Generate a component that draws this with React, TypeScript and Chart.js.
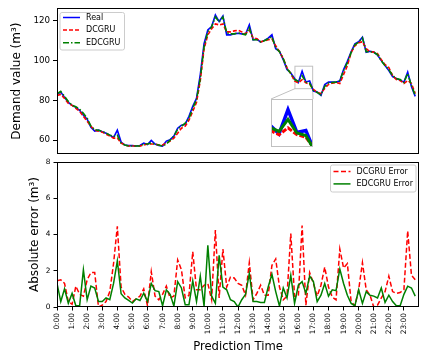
import React, { useEffect, useRef } from "react";
import { Chart, registerables } from "chart.js";

Chart.register(...registerables);

const FONT = "DejaVu Sans";

const HOURS = [
  "0:00", "1:00", "2:00", "3:00", "4:00", "5:00", "6:00", "7:00", "8:00", "9:00", "10:00", "11:00",
  "12:00", "13:00", "14:00", "15:00", "16:00", "17:00", "18:00", "19:00", "20:00", "21:00", "22:00", "23:00",
];

const REAL = [
  83, 84.2, 81.5, 79, 77.5, 76.5, 75, 72.5, 70.5, 66.5, 64.5, 65, 64.2, 63.5, 62.5, 61.3,
  65, 59, 57.5, 57.2, 57.2, 57, 57.3, 58.5, 57.8, 59.8, 58, 57.3, 57, 59.5, 60.2, 62,
  66, 67.5, 68, 72, 77, 81, 93, 108.5, 115.5, 117.2, 123, 119.7, 122.5, 113, 113, 113.5,
  113.8, 113.5, 113.3, 118, 110.5, 110.8, 109.3, 110.2, 111.3, 113, 106, 104.7, 100.5, 95.5, 93.8, 91,
  89, 94.7, 89.3, 89.8, 84.7, 84.2, 82.5, 88, 89.2, 89.2, 89.2, 89.7, 95.5, 99.7, 104.5, 108.5,
  109.5, 111.8, 104.2, 104.7, 104.3, 102.8, 100, 97.5, 95, 92, 91, 90.2, 89.2, 94.2, 87, 82,
];

const DCGRU = [
  82.5, 83, 81, 78.5, 77.5, 76, 74.5, 72, 69.5, 67, 65, 64.5, 64, 63, 62, 61,
  61, 58.5, 57.5, 57, 57, 57, 57, 57.5, 58, 58, 58, 57.5, 57.5, 58.5, 59.5, 61,
  63.5, 66, 67, 70, 74.5, 79, 90, 106, 113, 116, 118.5, 118, 118.5, 114.5, 114.5, 115,
  115.3, 114.5, 113.5, 115.5, 111.5, 111, 109.5, 110, 110.5, 111, 107.5, 104.5, 101, 96.5, 93.5, 89.8,
  88.8, 90.4, 88.8, 88.2, 85.5, 84, 83.5, 86, 88, 88.7, 89, 88.5, 93, 97.5, 104, 107.5,
  109, 109.5, 106, 104.5, 104.3, 103.5, 100.5, 98, 96.5, 92.5, 90.5, 90, 88.5, 90, 88.5, 83.5,
];

const EDCGRU = [
  83.3, 84.5, 82, 79.5, 77.5, 76.8, 75.5, 73.5, 71, 67, 65.2, 65, 64.5, 63.5, 62.5, 61.8,
  62.5, 58.5, 57.5, 57, 57, 57, 57, 58, 58, 58.5, 58, 57.5, 57, 58, 60, 62,
  65.5, 67, 68.5, 71, 76, 80.5, 91, 107, 114.5, 117, 122, 119.5, 122, 114, 113.5, 113.5,
  114, 113.5, 113, 116.5, 110.5, 110.5, 109.5, 110, 111, 112, 106.5, 104.5, 101, 96, 93.5, 90.5,
  89.6, 92.4, 89.2, 88.6, 85, 84, 82.8, 87, 88.8, 89, 89.2, 90, 95, 99, 104, 108,
  109.3, 111.5, 104.5, 104.5, 104.2, 103, 100, 97.5, 95.5, 92.5, 91, 90.5, 89, 93.5, 87.5, 82.5,
];

const DCGRU_ERR = [
  1.45, 1.5, 1.3, 0.3, 0.15, 1.15, 0.7, 0.6, 1.5, 1.9, 1.9, 0, 0.1, 0.3, 0.85, 2.4,
  4.45, 1.1, 0.7, 0.55, 0.3, 0.45, 0.6, 1.0, 0.07, 1.95, 0.6, 0.4, 0.7, 1.15, 0.5, 0.6,
  2.6, 2.05, 0.5, 0.65, 3.05, 0.95, 0.95, 1.2, 1.3, 0.4, 4.25, 0.5, 3.2, 1.1, 1.65, 1.6,
  1.3, 1.2, 0.65, 2.45, 0.4, 0.75, 1.2, 0.65, 0.65, 2.3, 2.65, 1.1, 0.4, 0.6, 4.05, 0.6,
  0.6, 4.5, 0.1, 1.9, 1.3, 0.6, 1.2, 2.2, 1.1, 0.55, 0.4, 3.2, 2.15, 2.4, 0.3, 0.07,
  0.95, 2.45, 0.95, 0.65, 0, 0.1, 0.5, 0.85, 1.7, 0.85, 0.75, 0.8, 0.95, 4.2, 1.75, 1.5,
];

const EDCGRU_ERR = [
  1.3, 0.3, 1.0, 0.2, 0.75, 0.07, 0.07, 2.05, 0.4, 1.15, 1.05, 0.3, 0.3, 0.5, 0.4, 1.3,
  2.55, 0.73, 0.5, 0.36, 0.22, 0.45, 0.36, 0.76, 0.3, 1.3, 0.9, 0.85, 0.07, 0.95, 0.7, 0.05,
  1.4, 1.05, 0.13, 0.13, 1.45, 0.3, 1.7, 0.05, 3.4, 0.6, 0.2, 2.85, 1.1, 0.95, 0.4, 0.3,
  0, 0.4, 0.7, 1.85, 0.3, 0.3, 0.25, 0.25, 1.1, 1.8, 0.85, 0.05, 1.05, 0.5, 1.75, 0.2,
  1.2, 1.4, 0.75, 1.7, 1.4, 0.3, 0.65, 1.3, 0.6, 0.95, 0.9, 2.1, 1.3, 0.65, 0.2, 0.07,
  0.95, 0.2, 0.85, 0.65, 0.6, 0.5, 1.05, 0.25, 0.65, 0.3, 0.07, 0.07, 0.7, 1.15, 1.05, 0.6,
];

const DEMAND_TICKS = [60, 80, 100, 120];
const ERROR_TICKS = [0, 2, 4, 6, 8];
const DEMAND_RANGE = [53, 126.4];
const ERROR_RANGE = [0, 8];
const X_RANGE = [0, 96];
const INSET_X = [63.1, 67.8];
const INSET_Y = [85.9, 97.2];

// layout (pixels)
const W = 432;
const H = 357;
const PLOT_RIGHT_PAD = 13;
const TOP_T = 8;
const TOP_B = 154;
const BOT_T = 162;
const BOT_B = 307;
const YAXIS_W = 57;
const INSET_BOX = { left: 271, top: 99, width: 42, height: 48 };

const pts = (arr: number[]) => arr.map((y, i) => ({ x: i, y }));

const framePlugin = (color: string) => ({
  id: "frame",
  afterDraw(chart: any) {
    const { ctx, chartArea: a } = chart;
    ctx.save();
    ctx.strokeStyle = color;
    ctx.lineWidth = 1;
    ctx.setLineDash([]);
    ctx.strokeRect(
      Math.round(a.left) + 0.5,
      Math.round(a.top) + 0.5,
      Math.round(a.right - a.left) - 1,
      Math.round(a.bottom - a.top) - 1
    );
    ctx.restore();
  },
});

const legendPlugin = (box: { x: number; y: number; w: number; h: number }, firstRow: number, rowH: number) => ({
  id: "boxLegend",
  afterDraw(chart: any) {
    const ctx = chart.ctx as CanvasRenderingContext2D;
    ctx.save();
    const r = 2;
    const { x, y, w, h } = box;
    ctx.beginPath();
    ctx.moveTo(x + r, y);
    ctx.lineTo(x + w - r, y);
    ctx.quadraticCurveTo(x + w, y, x + w, y + r);
    ctx.lineTo(x + w, y + h - r);
    ctx.quadraticCurveTo(x + w, y + h, x + w - r, y + h);
    ctx.lineTo(x + r, y + h);
    ctx.quadraticCurveTo(x, y + h, x, y + h - r);
    ctx.lineTo(x, y + r);
    ctx.quadraticCurveTo(x, y, x + r, y);
    ctx.closePath();
    ctx.fillStyle = "rgba(255,255,255,0.8)";
    ctx.fill();
    ctx.strokeStyle = "#cccccc";
    ctx.lineWidth = 1;
    ctx.stroke();
    chart.data.datasets.forEach((ds: any, k: number) => {
      const yy = y + firstRow + k * rowH;
      ctx.strokeStyle = ds.borderColor;
      ctx.lineWidth = 1.5;
      ctx.setLineDash(ds.borderDash || []);
      ctx.beginPath();
      ctx.moveTo(x + 3, yy);
      ctx.lineTo(x + 20, yy);
      ctx.stroke();
      ctx.setLineDash([]);
      ctx.fillStyle = "#000";
      ctx.font = `8px "${FONT}"`;
      ctx.textBaseline = "middle";
      ctx.textAlign = "left";
      ctx.fillText(ds.label, x + 26, yy);
    });
    ctx.restore();
  },
});

const insetMarkPlugin = {
  id: "insetMark",
  beforeDatasetsDraw(chart: any) {
    const { ctx, scales } = chart;
    const x0 = scales.x.getPixelForValue(INSET_X[0]);
    const x1 = scales.x.getPixelForValue(INSET_X[1]);
    const y0 = scales.y.getPixelForValue(INSET_Y[1]);
    const y1 = scales.y.getPixelForValue(INSET_Y[0]);
    ctx.save();
    ctx.strokeStyle = "#c0c0c0";
    ctx.lineWidth = 1;
    ctx.setLineDash([]);
    ctx.strokeRect(x0, y0, x1 - x0, y1 - y0);
    ctx.beginPath();
    ctx.moveTo(x0, y1);
    ctx.lineTo(INSET_BOX.left, INSET_BOX.top);
    ctx.moveTo(x1, y1);
    ctx.lineTo(INSET_BOX.left + INSET_BOX.width, INSET_BOX.top);
    ctx.stroke();
    ctx.restore();
  },
};

const lineDs = (label: string, data: number[], color: string, dash: number[], order: number, width = 1.6) => ({
  label,
  data: pts(data),
  borderColor: color,
  backgroundColor: color,
  borderDash: dash,
  borderWidth: width,
  pointRadius: 0,
  tension: 0,
  fill: false,
  order,
});

export default function App() {
  const topRef = useRef<HTMLCanvasElement>(null);
  const botRef = useRef<HTMLCanvasElement>(null);
  const insRef = useRef<HTMLCanvasElement>(null);

  useEffect(() => {
    Chart.defaults.font.family = FONT;
    Chart.defaults.color = "#000";

    const top = new Chart(topRef.current as HTMLCanvasElement, {
      type: "line",
      data: {
        datasets: [
          lineDs("Real", REAL, "#0000ff", [], 3),
          lineDs("DCGRU", DCGRU, "#ff0000", [4, 2], 2),
          lineDs("EDCGRU", EDCGRU, "#008000", [6, 2, 1.5, 2], 1),
        ] as any,
      },
      options: {
        animation: false,
        responsive: false,
        events: [],
        layout: { padding: { left: 0, right: PLOT_RIGHT_PAD, top: TOP_T, bottom: H - TOP_B } },
        plugins: { legend: { display: false }, tooltip: { enabled: false } },
        scales: {
          x: { type: "linear", min: X_RANGE[0], max: X_RANGE[1], display: false },
          y: {
            type: "linear",
            min: DEMAND_RANGE[0],
            max: DEMAND_RANGE[1],
            afterFit: (s: any) => {
              s.width = YAXIS_W;
            },
            afterBuildTicks: (s: any) => {
              s.ticks = DEMAND_TICKS.map((v) => ({ value: v }));
            },
            grid: { drawOnChartArea: false, tickLength: 4, color: "#000" },
            border: { display: false },
            ticks: { font: { family: FONT, size: 8.7 }, color: "#000", padding: 3 },
            title: {
              display: true,
              text: "Demand value (m³)",
              font: { family: FONT, size: 12 },
              color: "#000",
              padding: { top: 9.5, bottom: 0 },
            },
          },
        },
      },
      plugins: [insetMarkPlugin, framePlugin("#000"), legendPlugin({ x: 60, y: 12.5, w: 64.5, h: 37.5 }, 5, 12.6)],
    } as any);

    const bot = new Chart(botRef.current as HTMLCanvasElement, {
      type: "line",
      data: {
        datasets: [
          lineDs("DCGRU Error", DCGRU_ERR, "#ff0000", [5, 2.5], 2, 1.5),
          lineDs("EDCGRU Error", EDCGRU_ERR, "#008000", [], 1, 1.5),
        ] as any,
      },
      options: {
        animation: false,
        responsive: false,
        events: [],
        layout: { padding: { left: 0, right: PLOT_RIGHT_PAD, top: BOT_T, bottom: 0 } },
        plugins: { legend: { display: false }, tooltip: { enabled: false } },
        scales: {
          x: {
            type: "linear",
            min: X_RANGE[0],
            max: X_RANGE[1],
            afterFit: (s: any) => {
              s.height = H - BOT_B;
            },
            afterBuildTicks: (s: any) => {
              s.ticks = HOURS.map((_, h) => ({ value: h * 4 }));
            },
            grid: { drawOnChartArea: false, tickLength: 3.5, color: "#000" },
            border: { display: false },
            ticks: {
              autoSkip: false,
              minRotation: 90,
              maxRotation: 90,
              font: { family: FONT, size: 7.4 },
              color: "#000",
              padding: 2.5,
              callback: (v: any) => HOURS[Math.round(Number(v) / 4)] ?? "",
            },
            title: {
              display: true,
              text: "Prediction Time",
              font: { family: FONT, size: 11.6 },
              color: "#000",
              padding: { top: 0, bottom: 3.3 },
            },
          },
          y: {
            type: "linear",
            min: ERROR_RANGE[0],
            max: ERROR_RANGE[1],
            afterFit: (s: any) => {
              s.width = YAXIS_W;
            },
            afterBuildTicks: (s: any) => {
              s.ticks = ERROR_TICKS.map((v) => ({ value: v }));
            },
            grid: { drawOnChartArea: false, tickLength: 3.5, color: "#000" },
            border: { display: false },
            ticks: { font: { family: FONT, size: 7.4 }, color: "#000", padding: 3 },
            title: {
              display: true,
              text: "Absolute error (m³)",
              font: { family: FONT, size: 12 },
              color: "#000",
              padding: { top: 27.8, bottom: 0 },
            },
          },
        },
      },
      plugins: [framePlugin("#000"), legendPlugin({ x: 330.5, y: 165, w: 85.5, h: 27 }, 6.5, 12.4)],
    } as any);

    const inset = new Chart(insRef.current as HTMLCanvasElement, {
      type: "line",
      data: {
        datasets: [
          lineDs("Real", REAL, "#0000ff", [], 3, 3.5),
          lineDs("DCGRU", DCGRU, "#ff0000", [5, 2], 2, 3),
          lineDs("EDCGRU", EDCGRU, "#008000", [], 1, 3),
        ] as any,
      },
      options: {
        animation: false,
        responsive: false,
        events: [],
        layout: { padding: 0 },
        plugins: { legend: { display: false }, tooltip: { enabled: false } },
        scales: {
          x: { type: "linear", min: INSET_X[0], max: INSET_X[1], display: false },
          y: { type: "linear", min: INSET_Y[0], max: INSET_Y[1], display: false },
        },
      },
      plugins: [framePlugin("#c0c0c0")],
    } as any);

    return () => {
      top.destroy();
      bot.destroy();
      inset.destroy();
    };
  }, []);

  const full: React.CSSProperties = { position: "absolute", left: 0, top: 0, width: W, height: H };
  return (
    <div style={{ position: "fixed", left: 0, top: 0, width: W, height: H, background: "#fff" }}>
      <canvas ref={topRef} width={W} height={H} style={full} />
      <canvas ref={botRef} width={W} height={H} style={full} />
      <canvas
        ref={insRef}
        width={INSET_BOX.width}
        height={INSET_BOX.height}
        style={{
          position: "absolute",
          left: INSET_BOX.left,
          top: INSET_BOX.top,
          width: INSET_BOX.width,
          height: INSET_BOX.height,
          background: "#fff",
        }}
      />
    </div>
  );
}
